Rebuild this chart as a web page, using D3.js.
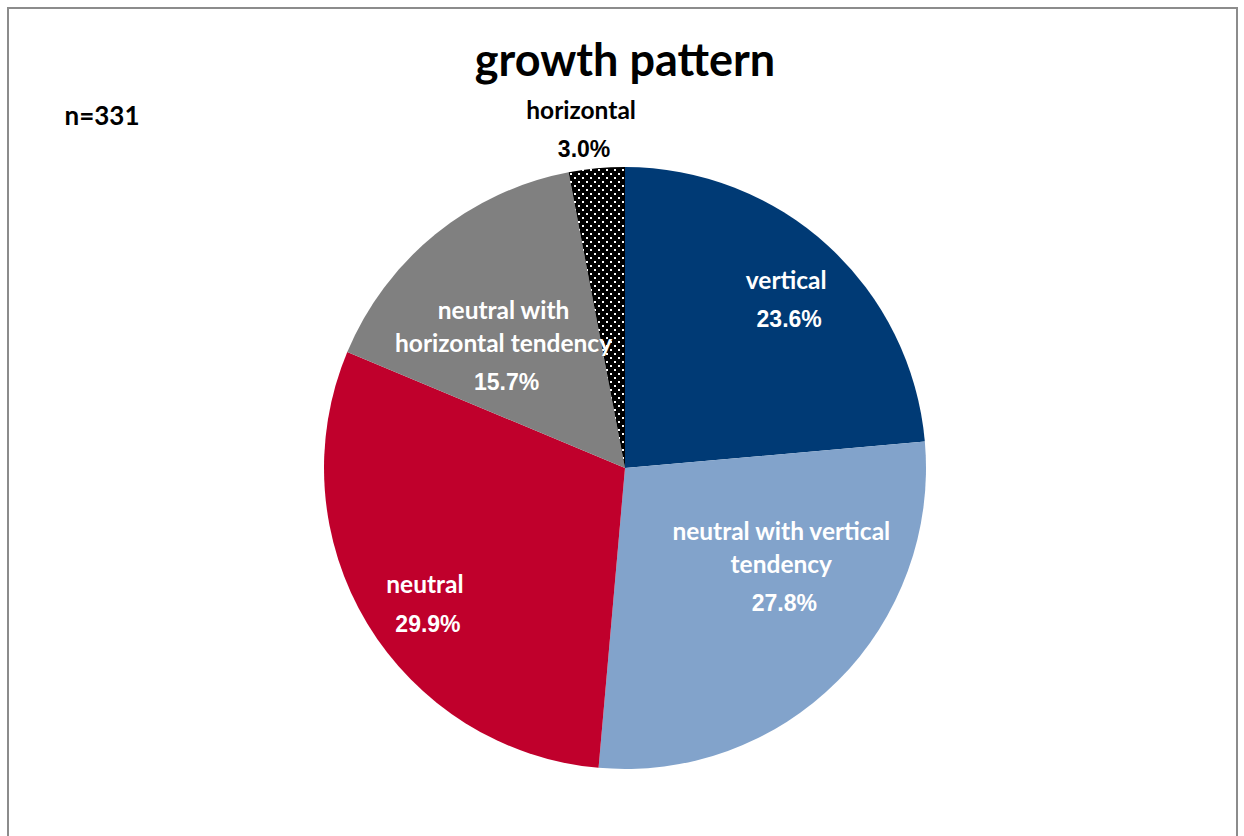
<!DOCTYPE html>
<html>
<head>
<meta charset="utf-8">
<script src="https://cdn.jsdelivr.net/npm/d3@7"></script>
<style>
  body { margin: 0; background: #fff; }
</style>
</head>
<body>
<div id="chart"></div>
<script>
// data
var categories = ["vertical", "neutral with vertical tendency", "neutral", "neutral with horizontal tendency", "horizontal"];
var shares = [23.6, 27.8, 29.9, 15.7, 3.0];
var labelLines = [["vertical"], ["neutral with vertical", "tendency"], ["neutral"], ["neutral with", "horizontal tendency"], ["horizontal"]];
var colors = ["#003a75", "#82a3cb", "#c0002c", "#808080", "url(#dots)"];
var title = "growth pattern";
var note = "n=331";

// label placement: radius fraction + angle shift (deg) from slice middle
var labelPlace = [
  { k: 0.774, shift: 1.3, color: "#fff" },
  { k: 0.615, shift: -12.6, color: "#fff" },
  { k: 0.804, shift: -3.1, color: "#fff" },
  { k: 0.571, shift: -5.9, color: "#fff" },
  { k: 1.133, shift: -2.0, color: "#000" }
];

var width = 1244, height = 836;
var cx = 625, cy = 468, radius = 301;

var svg = d3.select('#chart')
  .append('svg')
  .attr('width', width)
  .attr('height', height);

var defs = svg.append('defs');
var pat = defs.append('pattern')
  .attr('id', 'dots')
  .attr('patternUnits', 'userSpaceOnUse')
  .attr('width', 8)
  .attr('height', 8);
pat.append('rect').attr('width', 8).attr('height', 8).attr('fill', '#000');
pat.append('rect').attr('x', 1).attr('y', 1).attr('width', 2).attr('height', 2).attr('fill', '#fff');
pat.append('rect').attr('x', 5).attr('y', 5).attr('width', 2).attr('height', 2).attr('fill', '#fff');

// chart frame
svg.append('rect')
  .attr('x', 8).attr('y', 8)
  .attr('width', 1229).attr('height', 840)
  .attr('fill', 'none')
  .attr('stroke', '#8c8c8c')
  .attr('stroke-width', 2);

svg.append('text')
  .attr('x', 625).attr('y', 76)
  .attr('text-anchor', 'middle')
  .style('font-family', 'Lato, "Open Sans", sans-serif')
  .style('font-weight', 'bold')
  .style('font-size', '45px')
  .text(title);

svg.append('text')
  .attr('x', 102).attr('y', 125)
  .attr('text-anchor', 'middle')
  .style('font-family', 'Lato, "Open Sans", sans-serif')
  .style('font-weight', 'bold')
  .style('font-size', '26px')
  .text(note);

var data = categories.map(function (c, i) { return { name: c, value: shares[i], idx: i }; });

var pie = d3.pie()
  .sort(null)
  .value(function (d) { return d.value; });

var arc = d3.arc()
  .innerRadius(0)
  .outerRadius(radius);

var arcs = pie(data);

var g = svg.append('g')
  .attr('transform', 'translate(' + cx + ',' + cy + ')');

g.selectAll('path')
  .data(arcs)
  .enter()
  .append('path')
  .attr('d', arc)
  .attr('fill', function (d) { return colors[d.data.idx]; });

// labels
arcs.forEach(function (d) {
  var p = labelPlace[d.data.idx];
  var a = (d.startAngle + d.endAngle) / 2 + p.shift * Math.PI / 180;
  var x = Math.sin(a) * radius * p.k;
  var y = -Math.cos(a) * radius * p.k;
  var lines = labelLines[d.data.idx];
  var lineGap = 33, pctGap = 39;
  var blockH = (lines.length - 1) * lineGap + pctGap;
  var top = y - blockH / 2;

  var lab = g.append('g');
  lines.forEach(function (t, j) {
    lab.append('text')
      .attr('x', x)
      .attr('y', top + j * lineGap)
      .attr('dy', '0.35em')
      .attr('text-anchor', 'middle')
      .attr('fill', p.color)
      .style('font-family', 'Lato, "Open Sans", sans-serif')
      .style('font-weight', 'bold')
      .style('font-size', '24.5px')
      .text(t);
  });
  lab.append('text')
    .attr('x', x + 3)
    .attr('y', top + blockH)
    .attr('dy', '0.35em')
    .attr('text-anchor', 'middle')
    .attr('fill', p.color)
    .style('font-family', '"Liberation Sans", Arial, sans-serif')
    .style('font-weight', 'bold')
    .style('font-size', '23px')
    .text(d3.format('.1f')(d.data.value) + '%');
});
</script>
</body>
</html>
